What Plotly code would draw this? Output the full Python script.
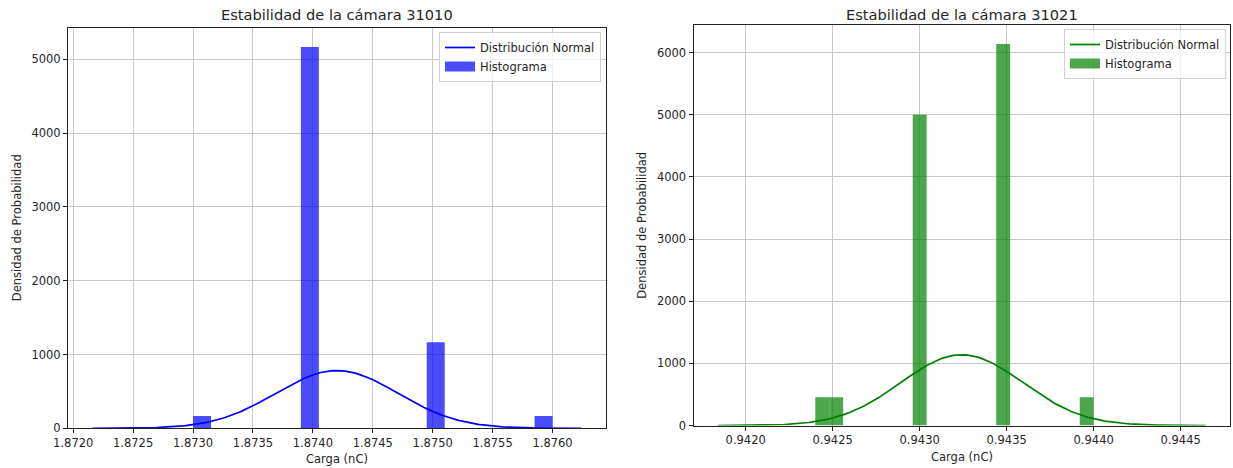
import numpy as np
import plotly.graph_objects as go

# Charge readings (nC) and how many times each was recorded, per chamber
camara_a = "31010"
valores_a = [1.8730, 1.8740, 1.8750, 1.8760]
conteos_a = [1, 31, 7, 1]

camara_b = "31021"
valores_b = [0.9424, 0.9425, 0.9430, 0.9435, 0.9440]
conteos_b = [2, 2, 22, 27, 2]

ticks_x_a = [1.8720, 1.8725, 1.8730, 1.8735, 1.8740, 1.8745, 1.8750, 1.8755, 1.8760]
ticks_y_a = [0, 1000, 2000, 3000, 4000, 5000]
ticks_x_b = [0.9420, 0.9425, 0.9430, 0.9435, 0.9440, 0.9445]
ticks_y_b = [0, 1000, 2000, 3000, 4000, 5000, 6000]

N_BINS = 20
W, H = 1233, 468
FONT = "DejaVu Sans"


def px_x(p):
    return p / W


def px_y(p):
    return (H - p) / H


def analizar(valores, conteos):
    datos = np.repeat(np.array(valores, dtype=float), conteos)
    dens, bordes = np.histogram(datos, bins=N_BINS, density=True)
    centros = 0.5 * (bordes[:-1] + bordes[1:])
    anchos = np.diff(bordes)
    mu, sigma = datos.mean(), datos.std()
    xs = np.linspace(mu - 4 * sigma, mu + 4 * sigma, 200)
    pdf = np.exp(-0.5 * ((xs - mu) / sigma) ** 2) / (sigma * np.sqrt(2 * np.pi))
    pad = 0.05 * (xs[-1] - xs[0])
    rango_x = [xs[0] - pad, xs[-1] + pad]
    rango_y = [0, 1.05 * max(dens.max(), pdf.max())]
    return centros, dens, anchos, xs, pdf, rango_x, rango_y


fig = go.Figure()

paneles = [
    dict(valores=valores_a, conteos=conteos_a, camara=camara_a,
         linea="#0000ff", barra="rgba(0,0,255,0.7)",
         xa="x", ya="y", legend="legend",
         dom_x=(68, 605.7), dom_y=(28, 428.3),
         ticks_x=ticks_x_a, ticks_y=ticks_y_a),
    dict(valores=valores_b, conteos=conteos_b, camara=camara_b,
         linea="#008000", barra="rgba(0,128,0,0.7)",
         xa="x2", ya="y2", legend="legend2",
         dom_x=(693.5, 1230), dom_y=(25, 425.5),
         ticks_x=ticks_x_b, ticks_y=ticks_y_b),
]

layout_ejes = {}
anotaciones = []
for i, p in enumerate(paneles):
    centros, dens, anchos, xs, pdf, rx, ry = analizar(p["valores"], p["conteos"])
    fig.add_trace(go.Scatter(
        x=xs, y=pdf, mode="lines", name="Distribución Normal",
        line=dict(color=p["linea"], width=1.7),
        xaxis=p["xa"], yaxis=p["ya"], legend=p["legend"],
    ))
    fig.add_trace(go.Bar(
        x=centros, y=dens, width=anchos, name="Histograma",
        marker=dict(color=p["barra"], line=dict(width=0)),
        xaxis=p["xa"], yaxis=p["ya"], showlegend=False,
    ))
    # legend entry drawn as a wide filled patch
    fig.add_trace(go.Scatter(
        x=[None], y=[None], mode="lines", name="Histograma",
        line=dict(color=p["barra"], width=10),
        xaxis=p["xa"], yaxis=p["ya"], legend=p["legend"],
    ))

    sfx = "" if i == 0 else "2"
    comun = dict(
        showline=True, linecolor="#222", linewidth=1, mirror=True,
        ticks="outside", ticklen=4, tickcolor="#222", tickwidth=1,
        showgrid=True, gridcolor="#c8c8c8", gridwidth=1,
        zeroline=False, automargin=False,
        tickfont=dict(family=FONT, size=11.5, color="#262626"),
    )
    layout_ejes["xaxis" + sfx] = dict(
        comun,
        domain=[px_x(p["dom_x"][0]), px_x(p["dom_x"][1])],
        range=rx, tickmode="array", tickvals=p["ticks_x"],
        ticktext=[f"{v:.4f}" for v in p["ticks_x"]],
        anchor="y" + sfx,
    )
    layout_ejes["yaxis" + sfx] = dict(
        comun,
        domain=[px_y(p["dom_y"][1]), px_y(p["dom_y"][0])],
        range=ry, tickmode="array", tickvals=p["ticks_y"],
        ticktext=[str(v) for v in p["ticks_y"]],
        anchor="x" + sfx,
    )

    cx = 0.5 * (p["dom_x"][0] + p["dom_x"][1])
    anotaciones.append(dict(
        text=f"Estabilidad de la cámara {p['camara']}",
        x=px_x(cx), y=px_y(14), xref="paper", yref="paper",
        xanchor="center", yanchor="middle", showarrow=False,
        font=dict(family=FONT, size=14.6, color="#262626"),
    ))
    anotaciones.append(dict(
        text="Carga (nC)",
        x=px_x(cx), y=px_y(p["dom_y"][1] + 31), xref="paper", yref="paper",
        xanchor="center", yanchor="middle", showarrow=False,
        font=dict(family=FONT, size=11.5, color="#262626"),
    ))
    cy = 0.5 * (p["dom_y"][0] + p["dom_y"][1])
    anotaciones.append(dict(
        text="Densidad de Probabilidad",
        x=px_x(p["dom_x"][0] - 51), y=px_y(cy), xref="paper", yref="paper",
        xanchor="center", yanchor="middle", showarrow=False, textangle=-90,
        font=dict(family=FONT, size=11.5, color="#262626"),
    ))

leyenda = dict(
    bgcolor="rgba(255,255,255,0.8)", bordercolor="#d0d0d0", borderwidth=1,
    font=dict(family=FONT, size=11.5, color="#262626"),
    xanchor="right", yanchor="top", traceorder="normal",
    itemwidth=30, tracegroupgap=0,
)

fig.update_layout(
    width=W, height=H,
    margin=dict(l=0, r=0, t=0, b=0, autoexpand=False),
    paper_bgcolor="white", plot_bgcolor="white",
    barmode="overlay", showlegend=True,
    legend=dict(leyenda, x=px_x(601), y=px_y(32)),
    legend2=dict(leyenda, x=px_x(1226), y=px_y(29)),
    annotations=anotaciones,
    **layout_ejes,
)

fig.write_html("out.html")
